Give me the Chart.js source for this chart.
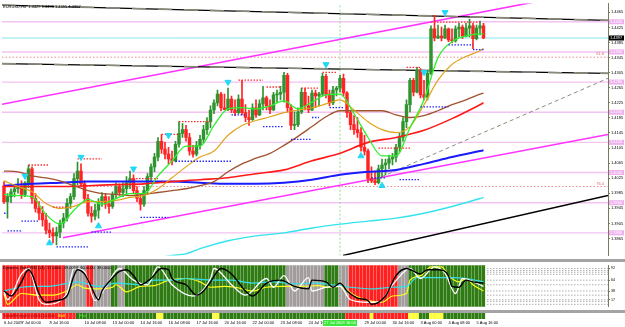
<!DOCTYPE html>
<html>
<head>
<meta charset="utf-8">
<script src="https://cdn.jsdelivr.net/npm/chart.js@4.4.1/dist/chart.umd.min.js"></script>
<style>
  body { margin: 0; background: #fff; width: 625px; height: 327px; overflow: hidden; position: relative; }
  canvas { position: absolute; left: 0; }
  #cMain { top: 0; }
  #cOsc { top: 262px; }
  #cStrip { top: 313px; }
  .sep { position: absolute; left: 0; width: 625px; background: #a4a4a4; }
</style>
</head>
<body>
<canvas id="cMain" width="625" height="259"></canvas>
<div class="sep" style="top:259px;height:3px"></div>
<canvas id="cOsc" width="625" height="48"></canvas>
<div class="sep" style="top:310px;height:3px"></div>
<canvas id="cStrip" width="625" height="14"></canvas>
<script>
// ---- candles (H4 bars, index 0 = 6 Jul 2009) ----
const open = [1.4005,1.3963,1.3976,1.3989,1.3997,1.4003,1.3982,1.4013,1.4050,1.3971,
1.3945,1.3932,1.3914,1.3887,1.3880,1.3872,1.3882,1.3906,1.3919,1.3958,
1.3976,1.4024,1.4044,1.4010,1.3971,1.3932,1.3924,1.3940,1.3963,1.3976,
1.3956,1.3950,1.3982,1.4003,1.3987,1.3997,1.4013,1.4024,1.3992,1.3971,
1.3956,1.3992,1.4029,1.4055,1.4081,1.4123,1.4102,1.4089,1.4076,1.4071,
1.4115,1.4144,1.4154,1.4133,1.4097,1.4089,1.4112,1.4128,1.4154,1.4175,
1.4206,1.4225,1.4248,1.4212,1.4207,1.4235,1.4206,1.4199,1.4235,1.4199,
1.4186,1.4180,1.4212,1.4193,1.4222,1.4238,1.4217,1.4206,1.4246,1.4248,
1.4253,1.4298,1.4212,1.4165,1.4167,1.4201,1.4253,1.4217,1.4206,1.4251,
1.4243,1.4248,1.4295,1.4248,1.4225,1.4259,1.4264,1.4290,1.4251,1.4199,
1.4167,1.4154,1.4146,1.4107,1.4097,1.4024,1.4018,1.4013,1.4050,1.4060,
1.4065,1.4076,1.4081,1.4107,1.4133,1.4175,1.4220,1.4285,1.4253,1.4311,
1.4246,1.4240,1.4303,1.4421,1.4397,1.4402,1.4397,1.4421,1.4392,1.4389,
1.4421,1.4426,1.4402,1.4423,1.4429,1.4395,1.4423,1.4429];
const close = [1.3963,1.3976,1.3989,1.3997,1.4003,1.3982,1.4013,1.4050,1.3971,1.3945,
1.3932,1.3914,1.3887,1.3880,1.3872,1.3882,1.3906,1.3919,1.3958,1.3976,
1.4024,1.4044,1.4010,1.3971,1.3932,1.3924,1.3940,1.3963,1.3976,1.3956,
1.3950,1.3982,1.4003,1.3987,1.3997,1.4013,1.4024,1.3992,1.3971,1.3956,
1.3992,1.4029,1.4055,1.4081,1.4123,1.4102,1.4089,1.4076,1.4071,1.4115,
1.4144,1.4154,1.4133,1.4097,1.4089,1.4112,1.4128,1.4154,1.4175,1.4206,
1.4225,1.4248,1.4212,1.4207,1.4235,1.4206,1.4199,1.4235,1.4199,1.4186,
1.4180,1.4212,1.4193,1.4222,1.4238,1.4217,1.4206,1.4246,1.4248,1.4253,
1.4298,1.4212,1.4165,1.4167,1.4201,1.4253,1.4217,1.4206,1.4251,1.4243,
1.4248,1.4295,1.4248,1.4225,1.4259,1.4264,1.4290,1.4251,1.4199,1.4167,
1.4154,1.4146,1.4107,1.4097,1.4024,1.4018,1.4013,1.4050,1.4060,1.4065,
1.4076,1.4081,1.4107,1.4133,1.4175,1.4220,1.4285,1.4253,1.4311,1.4246,
1.4240,1.4303,1.4421,1.4397,1.4402,1.4397,1.4421,1.4392,1.4389,1.4421,
1.4426,1.4402,1.4423,1.4429,1.4395,1.4423,1.4429,1.4397];
const high = [1.4016,1.3984,1.3997,1.4008,1.4024,1.4018,1.4016,1.4060,1.4055,1.3984,
1.3963,1.3950,1.3932,1.3906,1.3893,1.3895,1.3914,1.3932,1.3971,1.3984,
1.4037,1.4068,1.4063,1.4018,1.3982,1.3950,1.3956,1.3971,1.3987,1.3984,
1.3976,1.3989,1.4013,1.4010,1.4013,1.4029,1.4044,1.4034,1.4003,1.3984,
1.4003,1.4037,1.4063,1.4091,1.4133,1.4141,1.4120,1.4107,1.4097,1.4123,
1.4175,1.4170,1.4165,1.4144,1.4112,1.4123,1.4139,1.4165,1.4186,1.4217,
1.4233,1.4259,1.4253,1.4248,1.4264,1.4243,1.4233,1.4246,1.4285,1.4220,
1.4206,1.4222,1.4233,1.4233,1.4269,1.4243,1.4233,1.4253,1.4259,1.4269,
1.4306,1.4303,1.4220,1.4201,1.4212,1.4264,1.4264,1.4243,1.4259,1.4259,
1.4253,1.4303,1.4301,1.4259,1.4269,1.4269,1.4298,1.4301,1.4255,1.4206,
1.4191,1.4186,1.4159,1.4139,1.4102,1.4055,1.4044,1.4060,1.4076,1.4076,
1.4086,1.4091,1.4115,1.4144,1.4186,1.4233,1.4290,1.4290,1.4319,1.4316,
1.4285,1.4311,1.4429,1.4457,1.4431,1.4426,1.4431,1.4423,1.4421,1.4429,
1.4436,1.4431,1.4436,1.4447,1.4436,1.4431,1.4442,1.4436];
const low = [1.3958,1.3919,1.3960,1.3975,1.3985,1.3971,1.3976,1.4000,1.3958,1.3935,
1.3914,1.3898,1.3877,1.3867,1.3853,1.3848,1.3867,1.3893,1.3911,1.3945,
1.3969,1.4008,1.4003,1.3961,1.3924,1.3908,1.3914,1.3919,1.3950,1.3945,
1.3932,1.3945,1.3971,1.3979,1.3976,1.3984,1.3997,1.3984,1.3963,1.3940,
1.3950,1.3982,1.4016,1.4042,1.4071,1.4091,1.4076,1.4063,1.4060,1.4068,
1.4107,1.4133,1.4123,1.4086,1.4081,1.4084,1.4102,1.4118,1.4141,1.4159,
1.4196,1.4217,1.4204,1.4206,1.4204,1.4199,1.4191,1.4196,1.4193,1.4175,
1.4165,1.4178,1.4186,1.4191,1.4206,1.4206,1.4196,1.4204,1.4227,1.4233,
1.4227,1.4201,1.4154,1.4154,1.4162,1.4196,1.4206,1.4199,1.4204,1.4212,
1.4217,1.4243,1.4238,1.4217,1.4220,1.4243,1.4253,1.4243,1.4186,1.4154,
1.4141,1.4133,1.4097,1.4086,1.4013,1.4013,1.4008,1.4010,1.4029,1.4034,
1.4050,1.4060,1.4068,1.4094,1.4123,1.4159,1.4201,1.4243,1.4251,1.4238,
1.4233,1.4233,1.4300,1.4389,1.4395,1.4389,1.4395,1.4387,1.4384,1.4386,
1.4400,1.4395,1.4400,1.4400,1.4369,1.4392,1.4405,1.4395];

// ---- moving averages, read every 4th bar (fast) and every 8th bar (slow) ----
const maIdx = [0,4,8,12,16,20,24,28,32,36,40,44,48,52,56,60,64,68,72,76,80,84,88,92,96,100,104,108,112,116,120,124,128,132,136,137];
const maGreen = [1.3982,1.3979,1.3976,1.3929,1.3903,1.3940,1.3969,1.3956,1.3971,1.3984,1.3984,1.4031,1.4071,1.4110,1.4110,1.4165,1.4209,1.4212,1.4209,1.4217,1.4230,1.4209,1.4227,1.4246,1.4248,1.4196,1.4133,1.4084,1.4084,1.4159,1.4233,1.4345,1.4387,1.4402,1.4408,1.4408];
const maOrange = [1.4018,1.4003,1.3989,1.3958,1.3945,1.3950,1.3963,1.3963,1.3966,1.3974,1.3979,1.3997,1.4026,1.4055,1.4081,1.4097,1.4139,1.4165,1.4178,1.4188,1.4199,1.4206,1.4212,1.4222,1.4233,1.4206,1.4175,1.4154,1.4146,1.4162,1.4220,1.4285,1.4327,1.4348,1.4363,1.4369];
const maBrown = [1.4044,1.4042,1.4031,1.4026,1.4018,1.4005,1.3992,1.3984,1.3982,1.3979,1.3982,1.3987,1.3992,1.3997,1.4005,1.4016,1.4042,1.4063,1.4078,1.4091,1.4112,1.4136,1.4162,1.4188,1.4204,1.4204,1.4204,1.4204,1.4193,1.4186,1.4191,1.4204,1.4220,1.4233,1.4248,1.4251];
const slowIdx = [0,8,16,24,32,40,48,56,64,72,80,88,96,104,112,120,128,136,137];
const maRed = [1.4003,1.4003,1.4003,1.4005,1.4008,1.4010,1.4016,1.4021,1.4026,1.4037,1.4047,1.4071,1.4091,1.4120,1.4133,1.4152,1.4183,1.4220,1.4225];
const maBlue = [1.4005,1.4010,1.4013,1.4016,1.4016,1.4016,1.4016,1.4013,1.4010,1.4010,1.4013,1.4021,1.4034,1.4042,1.4047,1.4063,1.4081,1.4097,1.4099];
const cyanIdx = [44,48,52,56,64,72,80,88,96,104,112,120,128,136,137];
const maCyan = [1.3814,1.3820,1.3824,1.3838,1.3859,1.3872,1.3880,1.3893,1.3903,1.3911,1.3919,1.3932,1.3950,1.3971,1.3974];

// ---- trend lines: [start index, end index] and prices ----
const topLineX = [-0.57, 172.57],  topLineY = [1.4484, 1.4444];
const midLineX = [-0.57, 172.57],  midLineY = [1.4329, 1.4303];
const upperChanX = [-0.57, 172.57], upperChanY = [1.4221, 1.4530];
const lowerChanX = [16.86, 172.57], lowerChanY = [1.3867, 1.4141];
const steepLineX = [96.86, 172.57], steepLineY = [1.3820, 1.3979];
const dashLineX = [106, 172.57],   dashLineY = [1.4021, 1.4290];

// ---- horizontal levels ----
const roundLevels = [1.4440, 1.4360, 1.4280, 1.4200, 1.4120, 1.4040, 1.3960, 1.3880];
const bidPrice = 1.4397;
const fibLevels = [1.4346, 1.4003];
const fibNames = ['61.8', '76.4'];
const cursorIdx = 96;
const cursorText = '27 Jul 2009 16:00';

// ---- fractal levels (dotted) ----
const redFrom  = [7, 14, 21, 36, 45, 50, 67, 75, 85, 91, 107, 115, 122];
const redTo    = [13, 18, 28, 44, 50, 59, 74, 79, 90, 95, 116, 119, 136];
const redPrice = [1.4060, 1.3948, 1.4076, 1.4024, 1.4141, 1.4175, 1.4285, 1.4267, 1.4264, 1.4306, 1.4105, 1.4319, 1.4439];
const blueFrom  = [0, 1, 5, 15, 25, 39, 49, 65, 74, 82, 88, 93, 105, 113, 119, 127, 134];
const blueTo    = [1, 5, 10, 24, 31, 47, 65, 69, 80, 88, 90, 97, 109, 119, 127, 134, 137];
const bluePrice = [1.3932, 1.3885, 1.3911, 1.3843, 1.3882, 1.3921, 1.4070, 1.4193, 1.4162, 1.4128, 1.4186, 1.4212, 1.4026, 1.4021, 1.4214, 1.4379, 1.4366];

// ---- signal arrows ----
const upIdx = [13, 27, 102, 108];
const upPrice = [1.3853, 1.3898, 1.4084, 1.4005];
const downIdx = [6, 22, 37, 47, 64, 92, 120, 126];
const downPrice = [1.4031, 1.4081, 1.4050, 1.4139, 1.4280, 1.4327, 1.4306, 1.4465];

// ---- axis ticks ----
const priceTicks = [1.4465,1.4425,1.4385,1.4345,1.4305,1.4265,1.4225,1.4185,1.4145,1.4105,1.4065,1.4025,1.3985,1.3945,1.3905,1.3865];
const timeIdx = [0, 5, 13, 23, 31, 39, 47, 55, 63, 71, 79, 87, 103, 111, 119, 127, 135];
const timeLabels = ['6 Jul 2009','7 Jul 00:00','8 Jul 16:00','10 Jul 08:00','13 Jul 00:00','14 Jul 16:00','16 Jul 08:00','17 Jul 16:00','20 Jul 16:00','22 Jul 00:00','23 Jul 08:00','24 Jul 16:00','29 Jul 00:00','30 Jul 16:00','3 Aug 00:00','4 Aug 08:00','5 Aug 16:00'];

// ---- oscillator panel ----
const zoneFrom = [0, 18, 24, 26, 31, 33, 35, 81, 92, 96, 99, 113, 116];
const zoneTo   = [17, 23, 25, 30, 32, 34, 80, 91, 95, 98, 112, 115, 137];
const zoneCode = ['r','n','r','n','g','n','g','n','g','n','r','n','g'];
const oscBlackIdx = [0,2,5,7,8,10,12,15,18,20,21,23,25,27,28,30,33,35,37,39,42,45,47,48,52,55,57,59,62,65,69,71,75,79,83,87,88,92,94,96,98,101,104,105,109,112,115,119,121,124,127,128,130,132,134,137];
const oscBlack = [38,26,60,89,79,32,11,15,26,75,89,79,47,17,38,60,85,89,75,53,68,92,89,68,53,28,38,60,92,79,38,26,57,64,49,43,64,60,47,57,38,21,15,6,26,75,92,79,89,89,75,49,47,64,60,57];
const oscWhiteIdx = [0,1,5,7,10,12,18,20,23,26,29,33,37,41,44,48,54,59,60,65,69,75,77,80,83,87,88,92,96,99,104,107,111,115,116,119,123,126,129,131,133,137];
const oscWhite = [36,17,79,92,17,6,32,92,85,15,47,92,64,53,96,53,26,68,92,53,28,68,47,75,38,70,38,47,49,17,11,11,53,89,92,68,96,81,32,68,64,49];
const oscCyanIdx = [0,5,8,12,16,21,27,32,39,43,48,52,56,59,65,71,77,83,88,94,99,105,111,115,118,123,128,132,137];
const oscCyan = [38,47,49,49,53,60,49,57,53,64,64,68,66,64,64,57,60,55,57,53,47,43,47,49,70,70,70,68,60];
const oscYellowIdx = [0,1,5,10,14,18,21,23,27,31,32,35,39,43,47,52,56,59,63,66,71,75,80,85,90,92,96,100,104,108,111,115,116,119,122,125,127,130,132,134,137];
const oscYellow = [32,6,32,28,28,38,53,45,43,47,53,36,49,51,64,68,60,47,49,47,38,47,49,49,51,47,49,28,15,11,26,32,64,75,96,96,75,60,68,53,38];
const oscLevels = [92, 87, 83, 78, 64, 53, 38, 28, 17, 13, 6];
const oscTicks = [92, 78, 64, 53, 38, 28, 17, 6];

// ---- trend strip ----
const stripFrom = [0, 21, 44, 46, 60, 62, 98, 105, 106, 116, 119, 122, 126];
const stripTo   = [20, 43, 45, 59, 61, 97, 104, 105, 115, 118, 121, 125, 137];
const stripCode = ['r','g','y','g','y','g','r','y','r','y','g','y','g'];

const titleText = 'EURUSD,H4  1.4429 1.4436 1.4395 1.4397';
const oscTitle = 'Dynamic Zone RSI (14)  57.0000  49.0000  60.0000  38.0000';
const stripTitle = ['TrendStrength 0.0000 0.0000', 'Bull', 'Bear', 'Flat'];

// ---------------------------------------------------------------
const X_MIN = -0.5714, X_MAX = 172.5714;
const Y_MIN = 1.38196, Y_MAX = 1.44888;
const FONT = '"Liberation Sans", Arial, sans-serif';

const idx = close.map((c, i) => i);
const candleCol = close.map((c, i) => c >= open[i] ? '#2f942f' : '#ff2424');
const pts = (xs, ys) => xs.map((x, k) => ({ x: x, y: ys[k] }));
function segments(from, to, price) {
  const out = [];
  from.forEach((f, k) => {
    out.push({ x: f, y: price[k] }, { x: to[k], y: price[k] }, { x: to[k], y: null });
  });
  return out;
}
function runColors(from, to, code, map) {
  const cols = [];
  from.forEach((f, k) => { for (let i = f; i <= to[k]; i++) cols[i] = map[code[k]]; });
  return cols;
}
const line = (data, color, width, order, extra) => Object.assign({
  type: 'line', data: data, borderColor: color, borderWidth: width, pointRadius: 0,
  order: order, cubicInterpolationMode: 'monotone'
}, extra || {});

// main panel
const mainText = {
  id: 'mainText',
  afterDraw(chart) {
    const { ctx, chartArea: a, scales: { y } } = chart;
    ctx.save();
    ctx.font = '4px ' + FONT;
    ctx.textBaseline = 'middle';
    roundLevels.forEach(p => {
      const py = y.getPixelForValue(p);
      ctx.fillStyle = '#eeb0ee';
      ctx.fillRect(a.right + 1, py - 2.5, 15, 5);
      ctx.fillStyle = '#ffffff';
      ctx.fillText(p.toFixed(4), a.right + 2, py);
    });
    const by = y.getPixelForValue(bidPrice);
    ctx.fillStyle = '#000';
    ctx.fillRect(a.right + 1, by - 2.5, 15, 5);
    ctx.fillStyle = '#fff';
    ctx.fillText(bidPrice.toFixed(4), a.right + 2, by);
    ctx.fillStyle = '#e06a6a';
    ctx.textAlign = 'right';
    fibLevels.forEach((p, k) => ctx.fillText(fibNames[k], a.right - 4, y.getPixelForValue(p) - 3));
    ctx.textAlign = 'left';
    ctx.textBaseline = 'top';
    ctx.fillStyle = '#000';
    ctx.fillText(titleText, a.left + 1, a.top + 1);
    ctx.restore();
  }
};

const fullX = [X_MIN, X_MAX];
new Chart(document.getElementById('cMain'), {
  type: 'bar',
  data: {
    datasets: [
      line(segments(roundLevels.map(() => X_MIN), roundLevels.map(() => X_MAX), roundLevels), '#f2c4f2', 1.4, 30),
      line(pts(fullX, [bidPrice, bidPrice]), '#86e6ee', 1, 29),
      line(segments(fibLevels.map(() => X_MIN), fibLevels.map(() => X_MAX), fibLevels), '#f08a8a', 1, 28, { borderDash: [1.5, 2] }),
      line(pts([cursorIdx, cursorIdx], [Y_MIN, Y_MAX]), '#8edc8e', 1, 27, { borderDash: [2, 2] }),
      line(pts(topLineX, topLineY), '#000', 1.3, 25),
      line(pts(topLineX, topLineY), '#8a8a7a', 1.6, 24, { borderDash: [14, 12] }),
      line(pts(midLineX, midLineY), '#000', 1.3, 25),
      line(pts(midLineX, midLineY), '#8a8a7a', 1.6, 24, { borderDash: [14, 12] }),
      line(pts(upperChanX, upperChanY), '#ff33ff', 1.6, 25),
      line(pts(lowerChanX, lowerChanY), '#ff33ff', 1.6, 25),
      line(pts(steepLineX, steepLineY), '#000', 1.5, 25),
      line(pts(dashLineX, dashLineY), '#8c8c7c', 1, 25, { borderDash: [4, 3] }),
      { type: 'bar', data: idx.map(i => ({ x: i, y: [low[i], high[i]] })), backgroundColor: candleCol,
        barThickness: 1, grouped: false, order: 21 },
      { type: 'bar', data: idx.map(i => ({ x: i, y: [open[i], close[i]] })), backgroundColor: candleCol,
        barThickness: 2.8, minBarLength: 1, grouped: false, order: 20 },
      line(pts(cyanIdx, maCyan), '#33e4ee', 1.4, 12),
      line(pts(slowIdx, maBlue), '#1a1aff', 2, 11),
      line(pts(slowIdx, maRed), '#ff1a1a', 1.6, 10),
      line(pts(maIdx, maBrown), '#a0522d', 1.3, 9),
      line(pts(maIdx, maOrange), '#e0a41c', 1.2, 8),
      line(pts(maIdx, maGreen), '#2ef02e', 1.3, 7),
      line(segments(redFrom, redTo, redPrice), '#ff3030', 1.3, 3, { borderDash: [1.5, 1.5], cubicInterpolationMode: 'default' }),
      line(segments(blueFrom, blueTo, bluePrice), '#2a2aff', 1.3, 3, { borderDash: [1.5, 1.5], cubicInterpolationMode: 'default' }),
      { type: 'line', data: pts(upIdx, upPrice), showLine: false, pointStyle: 'triangle', pointRadius: 3.5,
        pointRotation: 0, pointBackgroundColor: '#22d8f4', pointBorderColor: '#22d8f4', order: 1 },
      { type: 'line', data: pts(downIdx, downPrice), showLine: false, pointStyle: 'triangle', pointRadius: 3.5,
        pointRotation: 180, pointBackgroundColor: '#22d8f4', pointBorderColor: '#22d8f4', order: 1 }
    ]
  },
  options: {
    responsive: false,
    animation: false,
    layout: { autoPadding: false, padding: { left: 2, top: 2, right: 0, bottom: 1 } },
    plugins: { legend: { display: false }, tooltip: { enabled: false } },
    scales: {
      x: { type: 'linear', min: X_MIN, max: X_MAX, display: false, offset: false },
      y: {
        position: 'right', min: Y_MIN, max: Y_MAX, beginAtZero: false,
        afterFit(s) { s.width = 17; },
        afterBuildTicks(s) { s.ticks = priceTicks.map(v => ({ value: v })); },
        ticks: { font: { size: 4, family: FONT }, color: '#000', padding: 1, callback: v => v.toFixed(4) },
        grid: { drawOnChartArea: false, drawTicks: true, tickLength: 2, color: '#7a7a5a' },
        border: { color: '#7a7a5a' }
      }
    }
  },
  plugins: [mainText]
});

// oscillator panel
const zoneCols = runColors(zoneFrom, zoneTo, zoneCode, { r: '#ff2020', n: '#a39c9c', g: '#2f7c14' });
const oscText = {
  id: 'oscText',
  afterDraw(chart) {
    const { ctx, chartArea: a } = chart;
    ctx.save();
    ctx.font = '4px ' + FONT;
    ctx.textBaseline = 'top';
    ctx.fillStyle = '#000';
    ctx.fillText(oscTitle, a.left + 1, a.top + 1);
    ctx.restore();
  }
};
new Chart(document.getElementById('cOsc'), {
  type: 'bar',
  data: {
    datasets: [
      { type: 'bar', data: idx.map(i => ({ x: i, y: [0, 100] })), backgroundColor: zoneCols,
        barThickness: 2.6, grouped: false, order: 20 },
      line(segments(oscLevels.map(() => 138), oscLevels.map(() => X_MAX), oscLevels), '#9a9a9a', 0.8, 15, { borderDash: [1.5, 1.5], cubicInterpolationMode: 'default' }),
      line(pts([cursorIdx, cursorIdx], [0, 100]), '#8edc8e', 1, 14, { borderDash: [2, 2] }),
      line(pts(oscYellowIdx, oscYellow), '#ffff1a', 1.2, 5),
      line(pts(oscCyanIdx, oscCyan), '#33e0e8', 1.2, 4),
      line(pts(oscWhiteIdx, oscWhite), '#ffffff', 1.3, 3),
      line(pts(oscBlackIdx, oscBlack), '#000000', 1.4, 2)
    ]
  },
  options: {
    responsive: false,
    animation: false,
    layout: { autoPadding: false, padding: { left: 2, top: 0, right: 0, bottom: 0 } },
    plugins: { legend: { display: false }, tooltip: { enabled: false } },
    scales: {
      x: { type: 'linear', min: X_MIN, max: X_MAX, display: false, offset: false },
      y: {
        position: 'right', min: 0, max: 100, beginAtZero: false,
        afterFit(s) { s.width = 17; },
        afterBuildTicks(s) { s.ticks = oscTicks.map(v => ({ value: v })); },
        ticks: { font: { size: 3.6, family: FONT }, color: '#000', padding: 1 },
        grid: { drawOnChartArea: false, drawTicks: true, tickLength: 2, color: '#7a7a5a' },
        border: { color: '#7a7a5a' }
      }
    }
  },
  plugins: [oscText]
});

// trend strip + time axis
const stripCols = runColors(stripFrom, stripTo, stripCode, { r: '#ff2020', g: '#2f7c14', y: '#ffff33' });
const stripText = {
  id: 'stripText',
  afterDraw(chart) {
    const { ctx, chartArea: a, scales: { x } } = chart;
    ctx.save();
    ctx.font = '4px ' + FONT;
    ctx.textBaseline = 'top';
    const colors = ['#a00000', '#ffff00', '#ff4040', '#40ff40'];
    let px = a.left + 1;
    stripTitle.forEach((t, k) => {
      ctx.fillStyle = colors[k];
      ctx.fillText(t, px, a.top + 1);
      px += ctx.measureText(t).width + 3;
    });
    const cx = x.getPixelForValue(cursorIdx);
    ctx.fillStyle = '#3ce83c';
    ctx.fillRect(cx - 17, a.bottom + 1, 34, 6);
    ctx.fillStyle = '#f4fff4';
    ctx.textAlign = 'center';
    ctx.fillText(cursorText, cx, a.bottom + 2);
    ctx.restore();
  }
};
new Chart(document.getElementById('cStrip'), {
  type: 'bar',
  data: {
    datasets: [
      { type: 'bar', data: idx.map(i => ({ x: i, y: [0, 1] })), backgroundColor: stripCols,
        barThickness: 2.6, grouped: false }
    ]
  },
  options: {
    responsive: false,
    animation: false,
    layout: { autoPadding: false, padding: { left: 2, top: 0, right: 17, bottom: 0 } },
    plugins: { legend: { display: false }, tooltip: { enabled: false } },
    scales: {
      x: {
        type: 'linear', min: X_MIN, max: X_MAX, offset: false,
        afterFit(s) { s.height = 8; },
        afterBuildTicks(s) { s.ticks = timeIdx.map(v => ({ value: v })); },
        ticks: { align: 'start', autoSkip: false, maxRotation: 0, minRotation: 0, padding: 1,
          font: { size: 4, family: FONT }, color: '#000', callback: (v, i) => timeLabels[i] },
        grid: { display: false, drawTicks: false },
        border: { display: false }
      },
      y: { display: false, min: 0, max: 1 }
    }
  },
  plugins: [stripText]
});
</script>
</body>
</html>
